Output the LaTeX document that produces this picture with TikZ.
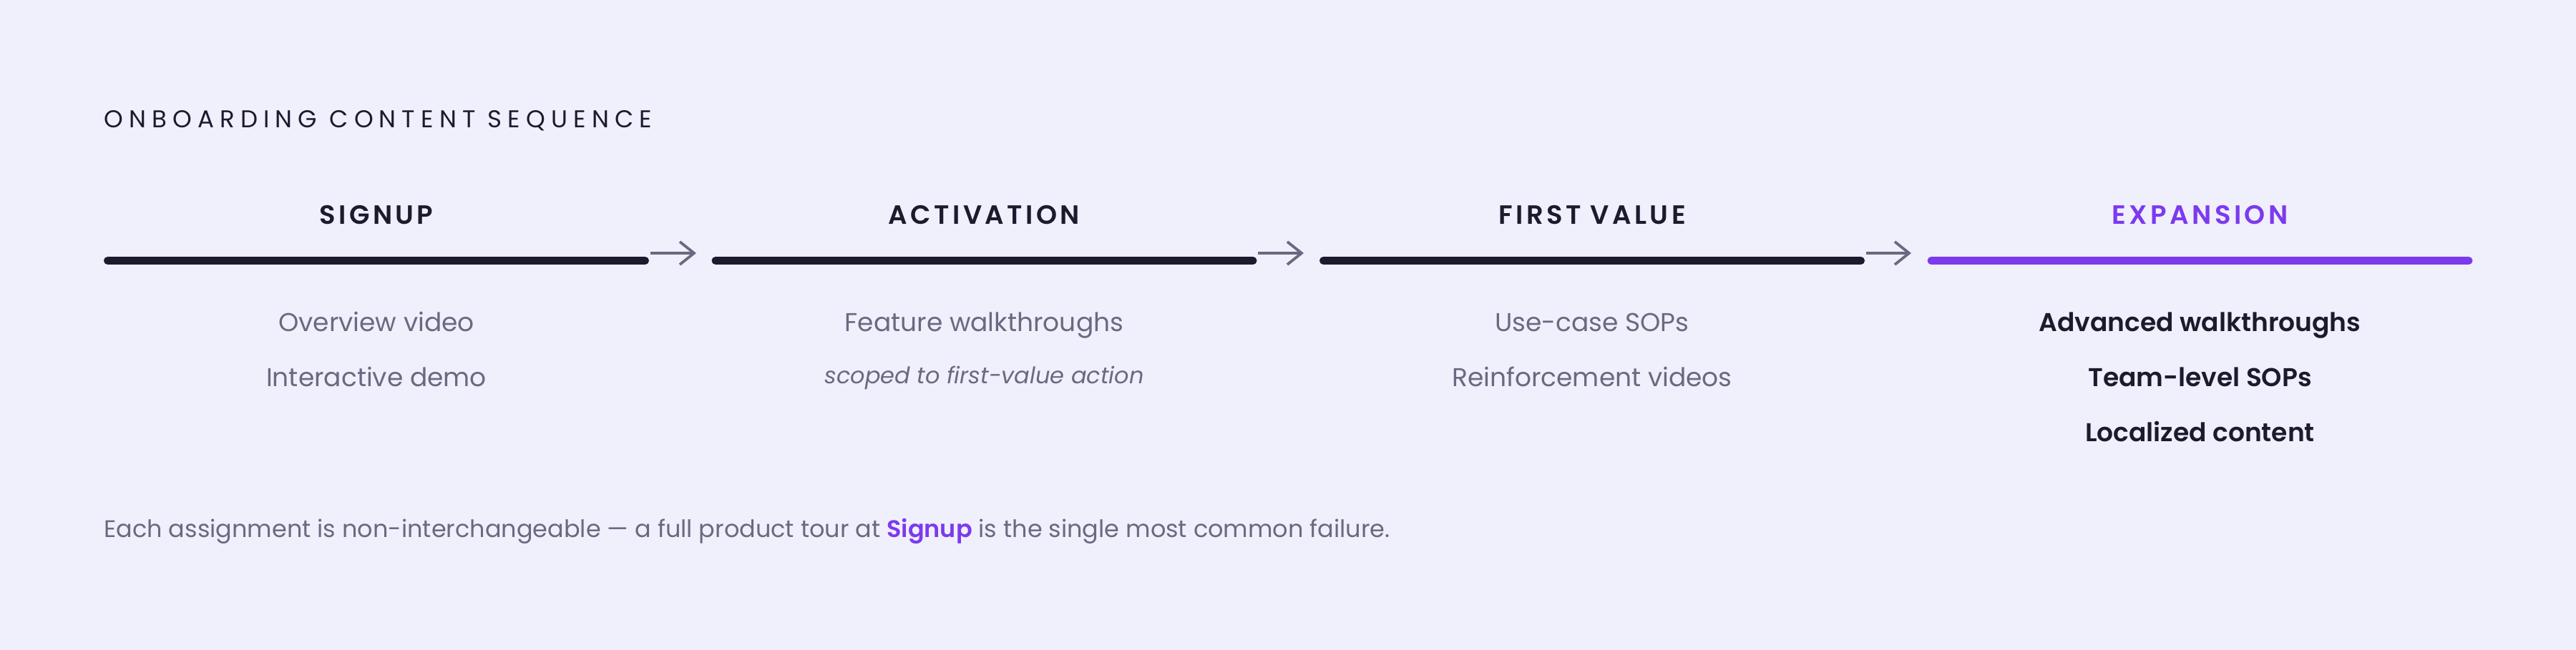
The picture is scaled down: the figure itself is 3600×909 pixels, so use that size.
\documentclass[tikz,border=0pt]{standalone}
\usepackage{fontspec}
\setmainfont{Poppins}[BoldFont = {Poppins SemiBold}]
\usetikzlibrary{arrows.meta}
\definecolor{paper}{HTML}{F0EFFC}
\definecolor{ink}{HTML}{1C1B2E}
\definecolor{muted}{HTML}{6B6980}
\definecolor{accent}{HTML}{7C3AED}
\tikzset{
  stagebar/.style = {line width = 5.5pt, line cap = round, ink},
  flow/.style = {line width = 1.9pt, muted, -{Straight Barb[length = 10pt, width = 16pt, line width = 1.9pt]}},
  stagehead/.style = {anchor = base, inner sep = 0pt, font = \fontsize{18.5}{22}\selectfont\bfseries\addfontfeature{LetterSpace = 12}},
  item/.style = {anchor = base, inner sep = 0pt, muted, font = \fontsize{18}{22}\selectfont},
  keyitem/.style = {anchor = base, inner sep = 0pt, ink, font = \fontsize{18}{22}\selectfont\bfseries}
}
\begin{document}
\begin{tikzpicture}[x = 0.5pt, y = -0.5pt]
\fill [paper] (0, 0) rectangle (3600, 909);
\useasboundingbox (0, 0) rectangle (3600, 909);
\node [anchor = base west, inner sep = 0pt, ink, font = \fontsize{17}{20}\selectfont\addfontfeature{LetterSpace = 24}] (title) at (145, 179) {ONBOARDING CONTENT SEQUENCE};
% stage bars
\coordinate (s1w) at (150.5, 364.5); \coordinate (s1e) at (901.5, 364.5);
\coordinate (s2w) at (1000, 364.5); \coordinate (s2e) at (1751, 364.5);
\coordinate (s3w) at (1849.5, 364.5); \coordinate (s3e) at (2600.5, 364.5);
\coordinate (s4w) at (2699, 364.5); \coordinate (s4e) at (3450, 364.5);
\draw [stagebar] (s1w) -- (s1e);
\draw [stagebar] (s2w) -- (s2e);
\draw [stagebar] (s3w) -- (s3e);
\draw [stagebar, accent] (s4w) -- (s4e);
% arrows between stages
\coordinate (a1) at (973, 354); \coordinate (a2) at (1822, 354); \coordinate (a3) at (2671, 354);
\draw [flow] ([xshift = 3.5pt, yshift = 5.25pt]s1e) -- (a1);
\draw [flow] ([xshift = 3.5pt, yshift = 5.25pt]s2e) -- (a2);
\draw [flow] ([xshift = 3.5pt, yshift = 5.25pt]s3e) -- (a3);
% headings
\node [stagehead, ink] (signup) at (526, 314) {SIGNUP};
\node [stagehead, ink] (activation) at (1375.5, 314) {ACTIVATION};
\node [stagehead, ink] (firstvalue) at (2225, 314) {FIRST VALUE};
\node [stagehead, accent] (expansion) at (3074.5, 314) {EXPANSION};
% content per stage
\node [item] (overview) at (526, 463) {Overview video};
\node [item] (demo) at (526, 540) {Interactive demo};
\node [item] (walk) at (1375.5, 463) {Feature walkthroughs};
\node [item, font = \fontsize{16}{20}\selectfont\itshape] (scoped) at (1375.5, 536) {scoped to first-value action};
\node [item] (sops) at (2225, 463) {Use-case SOPs};
\node [item] (reinf) at (2225, 540) {Reinforcement videos};
\node [keyitem] (advanced) at (3074.5, 463) {Advanced walkthroughs};
\node [keyitem] (team) at (3074.5, 540) {Team-level SOPs};
\node [keyitem] (local) at (3074.5, 617.5) {Localized content};
% footnote
\node [anchor = base west, inner sep = 0pt, muted, font = \fontsize{16.75}{20}\selectfont] (note) at (145, 751) {Each assignment is non-interchangeable — a full product tour at {\color{accent}\bfseries Signup} is the single most common failure.};
\end{tikzpicture}
\end{document}
